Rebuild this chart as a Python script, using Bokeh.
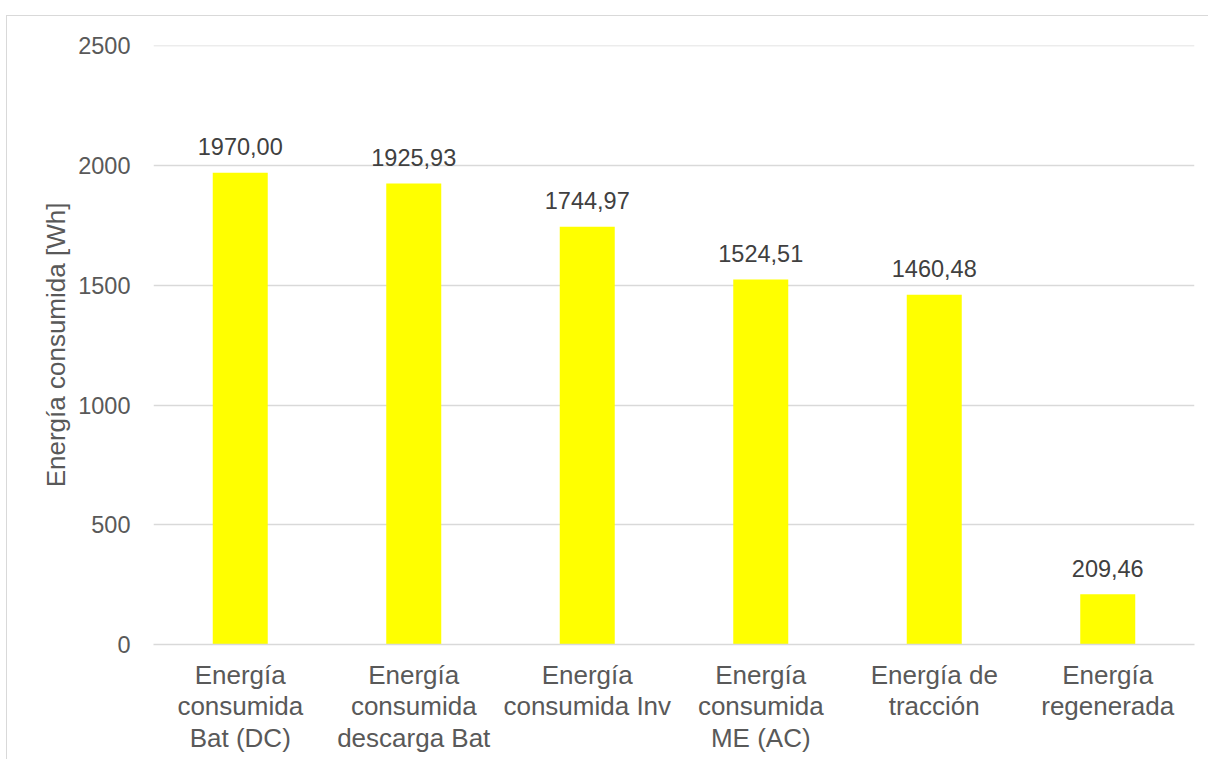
from bokeh.plotting import figure
from bokeh.models import Range1d, FactorRange, FixedTicker, ColumnDataSource
from bokeh.core.properties import value
from bokeh.embed import file_html
from bokeh.resources import INLINE

categories = [
    "Energía\nconsumida\nBat (DC)",
    "Energía\nconsumida\ndescarga Bat",
    "Energía\nconsumida Inv",
    "Energía\nconsumida\nME (AC)",
    "Energía de\ntracción",
    "Energía\nregenerada",
]
energy_wh = [1970.00, 1925.93, 1744.97, 1524.51, 1460.48, 209.46]
y_ticks = [0, 500, 1000, 1500, 2000, 2500]

labels = [f"{v:.2f}".replace(".", ",") for v in energy_wh]
src = ColumnDataSource(dict(x=categories, top=energy_wh, label=labels))

FONT = "Liberation Sans"

p = figure(
    width=1202, height=744,
    x_range=FactorRange(*categories),
    y_range=Range1d(0, 2502),
    output_backend="svg", toolbar_location=None,
    min_border_left=146, min_border_right=15,
    min_border_top=29, min_border_bottom=116,
)
p.margin = (15, 0, 0, 6)
p.styles = {"border-top": "1px solid #d9d9d9", "border-left": "1px solid #d9d9d9"}
p.outline_line_color = None
p.background_fill_color = "white"
p.border_fill_color = "white"

p.vbar(x="x", top="top", width=0.317, source=src, fill_color="#FFFF00", line_color=None)
p.text(x="x", y="top", text="label", source=src, text_align="center",
       text_baseline="alphabetic", y_offset=-26, text_font=value(FONT),
       text_font_size="23.5px", text_color="#404040")

p.xgrid.grid_line_color = None
p.ygrid.grid_line_color = "#d9d9d9"
p.ygrid.grid_line_width = 1.5
p.yaxis.ticker = FixedTicker(ticks=y_ticks)

p.yaxis.axis_line_color = None
p.yaxis.major_tick_line_color = None
p.yaxis.minor_tick_line_color = None
p.yaxis.major_label_text_font = FONT
p.yaxis.major_label_text_font_size = "23.5px"
p.yaxis.major_label_text_color = "#595959"
p.yaxis.major_label_standoff = 17
p.yaxis.axis_label = "Energía consumida [Wh]"
p.yaxis.axis_label_text_font = FONT
p.yaxis.axis_label_text_font_size = "26px"
p.yaxis.axis_label_text_font_style = "normal"
p.yaxis.axis_label_text_color = "#595959"
p.yaxis.axis_label_standoff = 4

p.xaxis.axis_line_color = "#d9d9d9"
p.xaxis.axis_line_width = 1.5
p.xaxis.major_tick_line_color = None
p.xaxis.minor_tick_line_color = None
p.xaxis.major_label_text_font = FONT
p.xaxis.major_label_text_font_size = "26px"
p.xaxis.major_label_text_color = "#595959"
p.xaxis.major_label_text_line_height = 1.05
p.xaxis.major_label_standoff = 9
p.xaxis.major_label_orientation = "horizontal"

open("out.html", "w").write(file_html(p, INLINE))
